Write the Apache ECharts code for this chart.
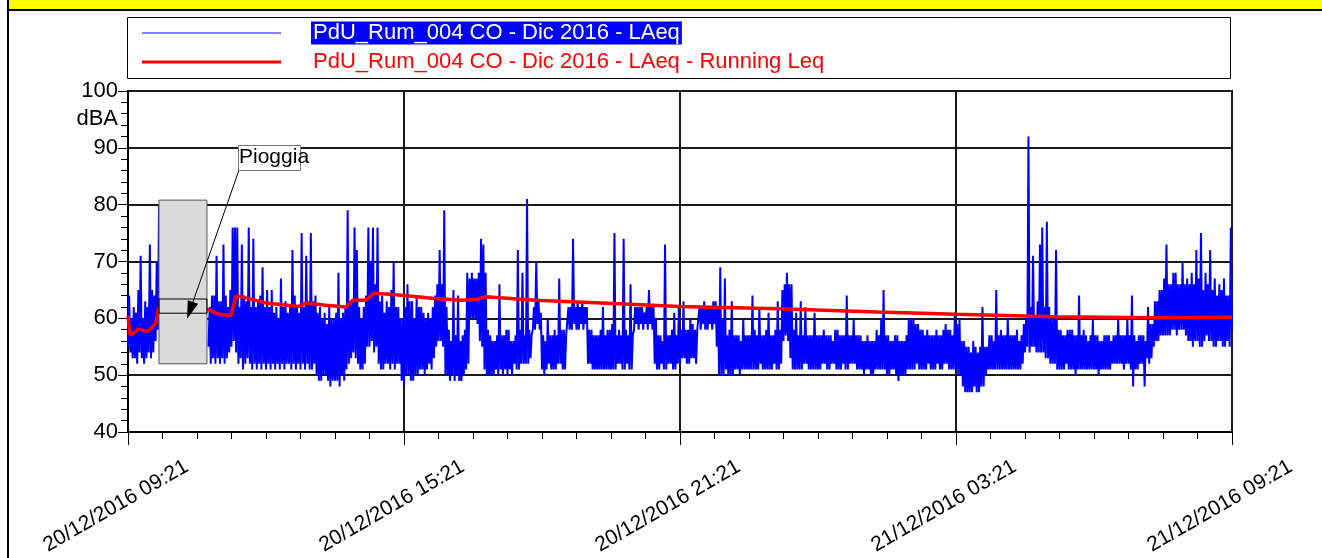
<!DOCTYPE html>
<html>
<head>
<meta charset="utf-8">
<script src="https://cdn.jsdelivr.net/npm/echarts@6/dist/echarts.min.js"></script>
<style>
  html, body { margin: 0; padding: 0; background: #fff; }
  #chart { width: 1322px; height: 558px; }
</style>
</head>
<body>
<div id="chart"></div>
<script>
// series names + x tick labels (one label every 6 h)
const seriesNames = ['PdU_Rum_004 CO - Dic 2016 - LAeq', 'PdU_Rum_004 CO - Dic 2016 - LAeq - Running Leq'];
const tickLabels = ['20/12/2016 09:21', '20/12/2016 15:21', '20/12/2016 21:21', '21/12/2016 03:21', '21/12/2016 09:21'];
const yTicks = [40, 50, 60, 70, 80, 90, 100];

// LAeq read per 3-minute bin from 20/12 09:21: lowest and highest value in each bin
// (null = no data during the rain)
const stepMin = 3;
const laeqLow = [
  55,54,53,53,52,54,53,52,53,54,
  53,54,56,58,null,null,null,null,null,null,
  null,null,null,null,null,null,null,null,null,null,
  null,null,null,null,null,55,52,53,52,53,
  52,53,52,53,54,55,56,54,52,53,
  51,52,53,52,51,52,51,52,51,52,
  51,52,51,52,51,52,51,52,51,52,
  52,51,52,51,52,51,52,51,52,51,
  51,52,50,49,49,50,50,49,48,49,
  49,49,48,50,49,51,52,53,54,53,
  52,51,51,52,55,55,56,54,55,52,
  51,51,52,52,51,52,51,52,52,49,
  48,50,50,49,49,50,50,51,51,50,
  51,52,51,53,55,56,56,55,50,50,
  49,50,49,50,49,49,50,51,52,60,
  60,60,59,56,55,51,50,50,50,50,
  51,50,51,50,51,50,51,50,52,51,
  51,52,52,52,52,53,58,58,59,58,
  51,50,51,52,51,51,51,52,52,51,
  51,57,58,58,59,58,58,59,58,59,
  52,52,51,51,51,51,51,51,51,51,
  51,51,51,52,52,51,51,52,51,51,
  58,59,58,59,58,59,58,59,58,52,
  51,51,52,51,51,52,52,51,51,52,
  52,53,53,52,52,53,53,52,58,58,
  59,58,58,59,58,59,55,50,50,50,
  51,50,50,50,51,51,50,51,51,51,
  51,51,51,51,51,52,51,51,51,51,
  51,52,51,51,52,56,57,56,53,51,
  51,51,51,51,52,52,51,51,51,51,
  51,51,52,52,51,51,52,52,51,51,
  51,52,51,51,52,52,52,51,51,51,
  50,51,51,50,50,51,51,51,51,51,
  50,50,51,51,50,49,50,50,50,51,
  51,51,51,52,51,51,51,51,52,51,
  51,51,52,51,51,52,52,51,51,51,
  51,50,50,48,47,47,47,47,48,47,
  47,48,48,50,51,51,51,51,51,51,
  51,51,51,51,51,51,51,51,51,52,
  54,55,54,55,55,54,54,54,54,53,
  53,52,52,52,51,51,51,51,52,51,
  51,51,50,51,51,51,51,51,51,51,
  51,51,50,51,51,51,51,51,52,52,
  52,52,52,51,52,52,51,48,51,51,
  52,52,48,53,52,53,55,56,56,57,
  57,57,57,57,58,58,57,58,58,58,
  57,56,56,55,56,56,55,55,56,57,
  56,56,55,55,56,56,55,55,56,55,
  58
];
const laeqHigh = [
  64,60,62,61,65,71,60,63,62,73,
  65,64,70,80,null,null,null,null,null,null,
  null,null,null,null,null,null,null,null,null,null,
  null,null,null,null,null,62,64,64,71,63,
  63,73,64,62,65,76,76,76,62,73,
  64,63,76,62,74,62,63,64,69,62,
  65,62,65,61,62,60,67,62,63,61,
  62,72,64,62,61,75,62,71,63,75,
  63,64,61,62,60,61,59,62,60,60,
  61,68,60,61,62,79,63,63,76,72,
  62,60,62,64,76,70,76,66,76,63,
  64,61,63,62,65,70,62,62,60,60,
  62,66,63,63,60,64,62,62,61,60,
  61,60,62,64,66,72,66,79,62,58,
  56,65,57,64,56,57,58,68,67,68,
  67,67,68,74,73,68,58,57,56,56,
  57,66,57,57,58,58,56,56,57,72,
  58,68,57,81,58,57,62,70,63,61,
  57,56,60,57,57,58,57,67,58,58,
  57,62,62,74,62,63,62,63,62,62,
  58,58,57,57,57,58,62,57,58,58,
  59,75,57,58,57,74,58,57,66,57,
  62,62,62,62,61,62,65,62,62,60,
  57,57,56,73,57,57,58,61,57,62,
  58,63,58,58,60,59,58,58,62,62,
  63,62,62,62,63,63,62,69,60,67,
  57,58,63,57,57,57,56,60,57,57,
  57,64,58,57,62,57,57,58,61,57,
  57,58,63,58,65,66,68,66,66,58,
  61,57,63,57,62,57,57,57,61,57,
  57,57,58,57,57,57,56,58,58,57,
  57,57,64,57,57,60,57,57,57,56,
  56,57,56,56,56,58,57,60,65,57,
  57,56,56,57,57,56,56,56,57,60,
  60,60,59,59,58,58,57,58,57,57,
  57,58,57,57,58,59,58,58,57,61,
  59,60,56,56,55,55,54,56,55,54,
  55,62,55,55,57,57,56,65,57,58,
  57,57,60,57,57,57,58,56,57,59,
  60,92,62,71,60,63,73,76,62,77,
  62,60,60,72,58,58,57,57,58,58,
  58,57,57,64,57,58,57,56,57,60,
  57,57,56,56,57,57,57,56,57,57,
  60,57,57,57,60,57,64,57,56,57,
  57,57,56,62,59,59,63,63,65,65,
  67,73,66,66,68,68,66,66,70,66,
  67,66,68,66,72,67,75,65,68,66,
  72,65,67,64,66,65,67,64,64,76,
  63
];

// running Leq (minutes from start, dBA)
const runMin = [0, 2.6, 7.8, 13, 26, 36.5, 39.5, 105.6, 118.7, 134.3, 140.9, 153.9, 180, 223, 232, 258, 284, 293.5, 310.4, 320.9, 345.7, 400, 435.6, 452.6, 467, 531, 618, 720, 848, 978, 1080, 1208, 1338, 1440];
const runLeq = [60.4, 57.1, 57.4, 58.1, 57.7, 59.2, 61.8, 61.5, 60.7, 60.5, 64.0, 63.6, 62.7, 62.1, 62.7, 62.3, 62.0, 63.2, 63.2, 64.4, 64.2, 63.5, 63.2, 63.3, 63.8, 63.2, 62.7, 62.1, 61.7, 61.1, 60.7, 60.3, 60.1, 60.2];

// rain annotation ("Pioggia") in data units
const rainFrom = 40.4, rainTo = 103, rainLow = 52, rainHigh = 80.8;
const rainLeqLow = 60.9, rainLeqHigh = 63.4;

// each bin gives two points: its low at the bin start, its high half a step later
const laeqPoints = [];
laeqLow.forEach((lo, i) => {
  laeqPoints.push([i * stepMin, lo]);
  if (i < laeqLow.length - 1) laeqPoints.push([i * stepMin + stepMin / 2, laeqHigh[i]]);
});

const font = '"Liberation Sans", Arial, sans-serif';
const chart = echarts.init(document.getElementById('chart'));

chart.setOption({
  animation: false,
  backgroundColor: '#fff',
  grid: {
    left: 128, right: 90, top: 91, bottom: 126,
    show: true, borderColor: '#000', borderWidth: 2, backgroundColor: '#fff'
  },
  xAxis: {
    type: 'value',
    min: 0, max: 1440, interval: 360,
    axisLine: {show: true, lineStyle: {color: '#000', width: 2}},
    axisTick: {show: true, length: 13, lineStyle: {color: '#000', width: 1}},
    minorTick: {show: true, splitNumber: 8, length: 7, lineStyle: {color: '#000', width: 1}},
    splitLine: {show: true, lineStyle: {color: '#1a1a1a', width: 2}},
    axisLabel: {
      rotate: 30,
      align: 'center',
      verticalAlign: 'middle',
      margin: 67,
      padding: [0, 28, 0, 0],
      fontSize: 21,
      fontFamily: font,
      color: '#000',
      formatter: v => tickLabels[Math.round(v / 360)]
    }
  },
  yAxis: {
    type: 'value',
    min: yTicks[0], max: yTicks[yTicks.length - 1], interval: 10,
    axisLine: {show: true, lineStyle: {color: '#000', width: 2}},
    axisTick: {show: true, length: 10, lineStyle: {color: '#000', width: 1}},
    minorTick: {show: true, splitNumber: 5, length: 7, lineStyle: {color: '#000', width: 1}},
    splitLine: {show: true, lineStyle: {color: '#1a1a1a', width: 2}},
    axisLabel: {margin: 10, fontSize: 22, fontFamily: font, color: '#000'}
  },
  series: [
    {
      name: seriesNames[0],
      type: 'line',
      symbol: 'none',
      sampling: null,
      data: laeqPoints,
      lineStyle: {color: '#0000ff', width: 2},
      z: 3
    },
    {
      name: seriesNames[1],
      type: 'line',
      symbol: 'none',
      data: runMin.map((m, i) => [m, runLeq[i]]),
      lineStyle: {color: '#ff0000', width: 3.5},
      z: 4
    }
  ]
});

// frame, legend box and the rain annotation
const p = (x, y) => chart.convertToPixel({gridIndex: 0}, [x, y]);
const r0 = p(rainFrom, rainHigh), r1 = p(rainTo, rainLow);
const q0 = p(rainFrom, rainLeqHigh), q1 = p(rainTo, rainLeqLow);
const tip = [187, 319], tail = [239, 170];
const dx = tip[0] - tail[0], dy = tip[1] - tail[1], len = Math.hypot(dx, dy);
const ux = dx / len, uy = dy / len;
const bx = tip[0] - 18 * ux, by = tip[1] - 18 * uy;

chart.setOption({
  graphic: [
    {type: 'rect', shape: {x: 9, y: 0, width: 1313, height: 9}, style: {fill: '#ffff00'}, z: 20},
    {type: 'line', shape: {x1: 8, y1: 10, x2: 1322, y2: 10}, style: {stroke: '#000', lineWidth: 2}, z: 20},
    {type: 'line', shape: {x1: 8, y1: 0, x2: 8, y2: 558}, style: {stroke: '#000', lineWidth: 2}, z: 20},

    {type: 'rect', shape: {x: 127.5, y: 17.5, width: 1103, height: 61}, style: {fill: '#fff', stroke: '#000', lineWidth: 1}, z: 20},
    {type: 'line', shape: {x1: 142, y1: 33, x2: 281, y2: 33}, style: {stroke: '#0000ff', lineWidth: 1}, z: 21},
    {type: 'text', x: 311, y: 33, style: {text: seriesNames[0], font: '22px ' + font, fill: '#fff', backgroundColor: '#0000ff', padding: [1, 2, 0, 2], align: 'left', verticalAlign: 'middle'}, z: 21},
    {type: 'line', shape: {x1: 142, y1: 62, x2: 281, y2: 62}, style: {stroke: '#ff0000', lineWidth: 3}, z: 21},
    {type: 'text', x: 313, y: 62, style: {text: seriesNames[1], font: '22px ' + font, fill: '#ff0000', align: 'left', verticalAlign: 'middle'}, z: 21},

    {type: 'text', x: 118, y: 119, style: {text: 'dBA', font: '22px ' + font, fill: '#000', align: 'right', verticalAlign: 'middle'}, z: 21},

    {type: 'rect', shape: {x: r0[0], y: r0[1], width: r1[0] - r0[0], height: r1[1] - r0[1]}, style: {fill: '#dadada', stroke: '#555', lineWidth: 1}, z: 30},
    {type: 'rect', shape: {x: q0[0], y: q0[1], width: q1[0] - q0[0], height: q1[1] - q0[1]}, style: {fill: 'none', stroke: '#000', lineWidth: 1}, z: 31},
    {type: 'line', shape: {x1: tail[0], y1: tail[1], x2: bx, y2: by}, style: {stroke: '#000', lineWidth: 1}, z: 31},
    {type: 'polygon', shape: {points: [tip, [bx + 5.5 * uy, by - 5.5 * ux], [bx - 5.5 * uy, by + 5.5 * ux]]}, style: {fill: '#000'}, z: 31},
    {type: 'rect', shape: {x: 238.5, y: 145.5, width: 62, height: 25}, style: {fill: '#fff', stroke: '#777', lineWidth: 1}, z: 31},
    {type: 'text', x: 239, y: 157, style: {text: 'Pioggia', font: '21px ' + font, fill: '#000', align: 'left', verticalAlign: 'middle'}, z: 32}
  ]
});
</script>
</body>
</html>
